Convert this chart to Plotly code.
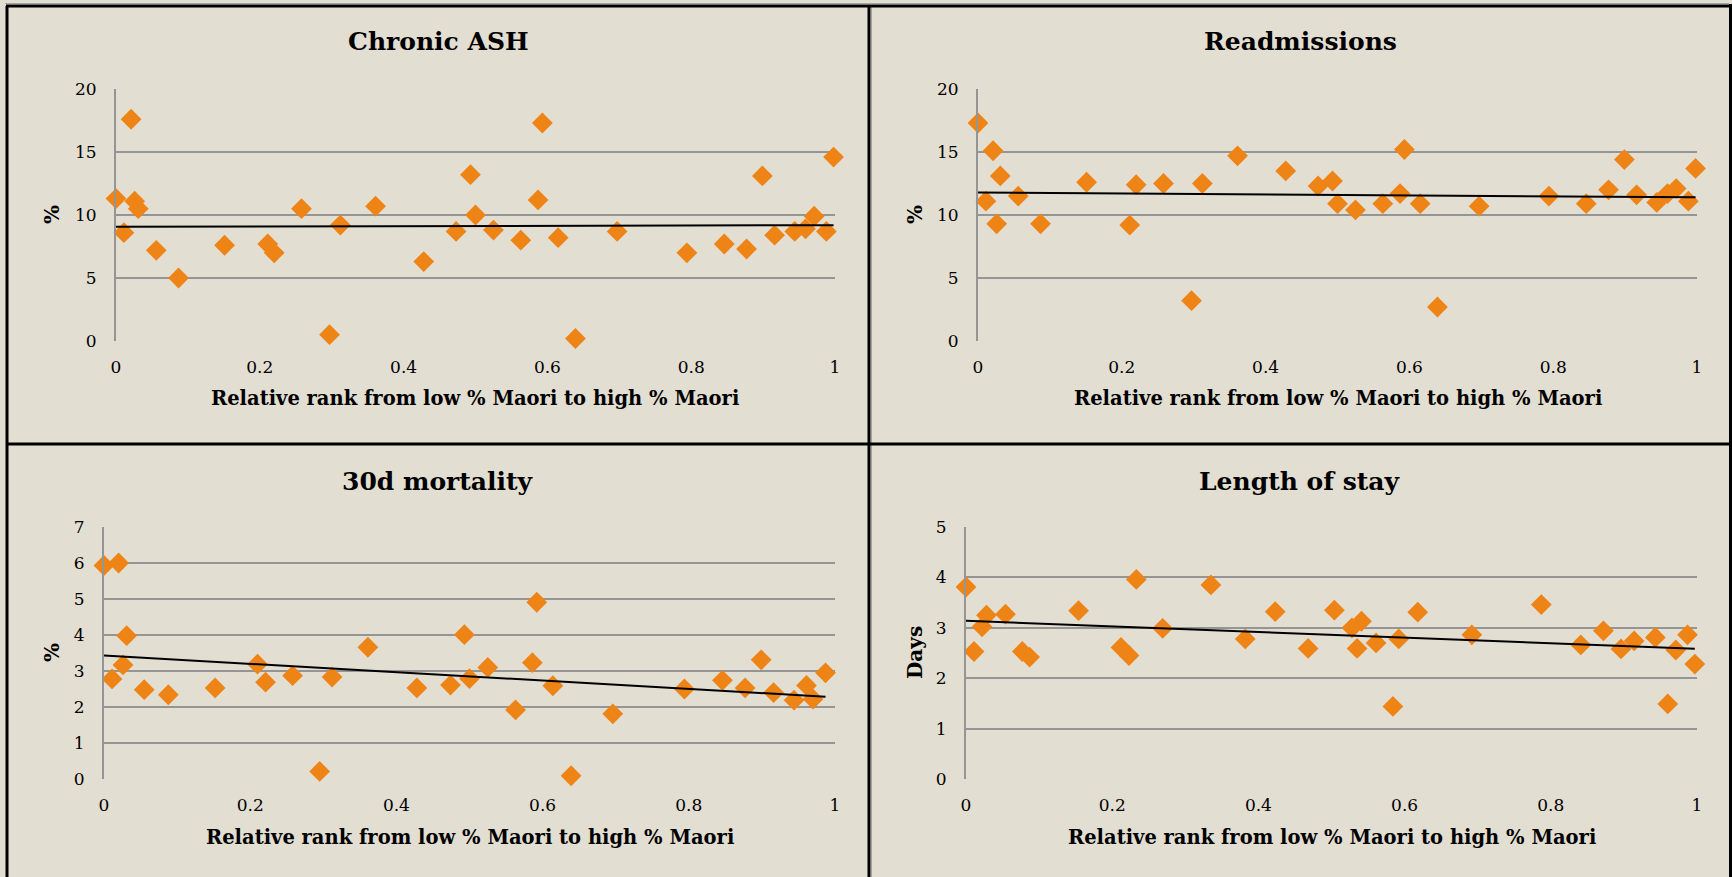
import numpy as np
import plotly.graph_objects as go

W, H = 1732, 877

# ---------------- data ----------------
rank = [0.000, 0.011, 0.021, 0.026, 0.031, 0.056, 0.087, 0.151, 0.211, 0.220,
        0.258, 0.297, 0.312, 0.361, 0.428, 0.473, 0.493, 0.500, 0.525, 0.563,
        0.587, 0.593, 0.615, 0.639, 0.697, 0.794, 0.846, 0.877, 0.899, 0.916,
        0.944, 0.959, 0.971, 0.988, 0.998]

chronic_ash = [11.3, 8.6, 17.6, 11.1, 10.5, 7.2, 5.0, 7.6, 7.7, 7.0,
               10.5, 0.5, 9.2, 10.7, 6.3, 8.7, 13.2, 10.0, 8.8, 8.0,
               11.2, 17.3, 8.2, 0.2, 8.7, 7.0, 7.7, 7.3, 13.1, 8.4,
               8.7, 8.9, 9.9, 8.7, 14.6]

readmissions = [17.3, 11.1, 15.1, 9.3, 13.1, 11.5, 9.3, 12.6, 9.2, 12.4,
                12.5, 3.2, 12.5, 14.7, 13.5, 12.3, 12.7, 10.9, 10.4, 10.9,
                11.7, 15.2, 10.9, 2.7, 10.7, 11.5, 10.9, 12.0, 14.4, 11.6,
                11.0, 11.7, 12.1, 11.1, 13.7]

rank_mortality = [0.000, 0.011, 0.020, 0.026, 0.031, 0.055, 0.088, 0.152, 0.210, 0.221,
                  0.258, 0.295, 0.312, 0.361, 0.428, 0.474, 0.493, 0.500, 0.525, 0.563,
                  0.586, 0.592, 0.614, 0.639, 0.696, 0.794, 0.846, 0.877, 0.899, 0.916,
                  0.944, 0.961, 0.970, 0.987]

mortality_30d = [5.93, 2.78, 6.0, 3.17, 3.98, 2.48, 2.34, 2.53, 3.19, 2.69,
                 2.87, 0.21, 2.83, 3.66, 2.53, 2.61, 4.01, 2.79, 3.10, 1.92,
                 3.23, 4.91, 2.59, 0.09, 1.81, 2.50, 2.74, 2.53, 3.31, 2.40,
                 2.19, 2.60, 2.22, 2.95]

rank_los = [0.000, 0.011, 0.022, 0.028, 0.054, 0.077, 0.087, 0.154, 0.212, 0.223,
            0.233, 0.269, 0.335, 0.382, 0.423, 0.468, 0.504, 0.528, 0.535, 0.541,
            0.561, 0.584, 0.592, 0.618, 0.692, 0.787, 0.841, 0.872, 0.896, 0.914,
            0.943, 0.960, 0.971, 0.987, 0.997]

length_of_stay = [3.81, 2.53, 3.02, 3.25, 3.27, 2.53, 2.42, 3.34, 2.61, 2.45,
                  3.96, 2.99, 3.85, 2.78, 3.32, 2.59, 3.35, 3.00, 2.59, 3.13,
                  2.70, 1.44, 2.78, 3.31, 2.86, 3.46, 2.66, 2.94, 2.58, 2.74,
                  2.81, 1.49, 2.56, 2.86, 2.28]

panel_titles = ["Chronic ASH", "Readmissions", "30d mortality", "Length of stay"]
y_titles = ["%", "%", "%", "Days"]
x_title = "Relative rank from low % Maori to high % Maori"
x_ticks = [0, 0.2, 0.4, 0.6, 0.8, 1]
x_ticklabels = ["0", "0.2", "0.4", "0.6", "0.8", "1"]
y_ranges = [[0, 20], [0, 20], [0, 7], [0, 5]]
y_dticks = [5, 5, 1, 1]

series = [(rank, chronic_ash), (rank, readmissions),
          (rank_mortality, mortality_30d), (rank_los, length_of_stay)]

# ---------------- styling / layout ----------------
BG = "#E3DED2"
ORANGE = "#EF8416"
GRID = "#959595"
FONT = "DejaVu Serif"

# plot areas in pixels: (left, right, top, bottom)
areas = [(116, 835, 89, 341), (978, 1697, 89, 341),
         (104, 835, 527, 779), (966, 1697, 527, 779)]
# panel boxes (left, right, top, bottom)
boxes = [(7, 869, 6, 444), (869, 1731, 6, 444),
         (7, 869, 444, 877), (869, 1731, 444, 877)]
title_y = [41, 41, 481, 481]
xtitle_y = [398, 398, 837, 837]
ytitle_x = [52, 915, 52, 915]

def px(x):
    return x / W

def py(y):
    return 1 - y / H

fig = go.Figure()
layout = {}
annotations = []
for i in range(4):
    xs, ys = series[i]
    n = "" if i == 0 else str(i + 1)
    xa, ya = "x" + n, "y" + n
    fig.add_trace(go.Scatter(
        x=xs, y=ys, mode="markers", xaxis=xa, yaxis=ya,
        marker=dict(symbol="diamond", size=16, color=ORANGE, line=dict(width=0)),
        showlegend=False, hoverinfo="x+y", cliponaxis=False))
    # linear trend line fitted to the data
    k, b = np.polyfit(np.array(xs), np.array(ys), 1)
    lx = np.array([min(xs), max(xs)])
    fig.add_trace(go.Scatter(
        x=lx, y=k * lx + b, mode="lines", xaxis=xa, yaxis=ya,
        line=dict(color="black", width=2), showlegend=False, hoverinfo="skip"))

    l, r, t, btm = areas[i]
    layout["xaxis" + n] = dict(
        domain=[px(l), px(r)], range=[0, 1], anchor=ya, automargin=False,
        tickvals=x_ticks, ticktext=x_ticklabels, showgrid=False, zeroline=False,
        showline=False, ticks="outside", ticklen=11, tickcolor="rgba(0,0,0,0)",
        tickfont=dict(family=FONT, size=17, color="black"))
    layout["yaxis" + n] = dict(
        domain=[py(btm), py(t)], range=y_ranges[i], anchor=xa, automargin=False,
        dtick=y_dticks[i], tick0=0, showgrid=True, gridcolor=GRID, gridwidth=2,
        zeroline=False, showline=True, linecolor=GRID, linewidth=2,
        ticks="outside", ticklen=14, tickcolor="rgba(0,0,0,0)",
        tickfont=dict(family=FONT, size=17, color="black"))

    bl, br, bt, bb = boxes[i]
    annotations.append(dict(
        text="<b>%s</b>" % panel_titles[i], x=px((bl + br) / 2), y=py(title_y[i]),
        xref="paper", yref="paper", showarrow=False, xanchor="center", yanchor="middle",
        font=dict(family=FONT, size=25, color="black")))
    annotations.append(dict(
        text="<b>%s</b>" % x_title, x=px((l + r) / 2), y=py(xtitle_y[i]),
        xref="paper", yref="paper", showarrow=False, xanchor="center", yanchor="middle",
        font=dict(family=FONT, size=19.5, color="black")))
    annotations.append(dict(
        text="<b>%s</b>" % y_titles[i], x=px(ytitle_x[i]), y=py((t + btm) / 2),
        xref="paper", yref="paper", showarrow=False, xanchor="center", yanchor="middle",
        textangle=-90, font=dict(family=FONT, size=20, color="black")))

shapes = []
def hline(y, x0, x1, color="black", w=3):
    shapes.append(dict(type="line", xref="paper", yref="paper",
                       x0=px(x0), x1=px(x1), y0=py(y), y1=py(y),
                       line=dict(color=color, width=w)))

def vline(x, y0, y1, color="black", w=3):
    shapes.append(dict(type="line", xref="paper", yref="paper",
                       x0=px(x), x1=px(x), y0=py(y0), y1=py(y1),
                       line=dict(color=color, width=w)))

hline(3.5, 5, 1729, color="#A8A49C", w=1)
vline(871.5, 6, 877, color="#A8A49C", w=1)
hline(6, 6, 1731)
hline(444, 6, 1731)
vline(7, 6, 877)
vline(869, 6, 877)
vline(1730.5, 4, 877)

fig.update_layout(
    width=W, height=H, margin=dict(l=0, r=0, t=0, b=0, pad=0),
    paper_bgcolor=BG, plot_bgcolor=BG, showlegend=False,
    annotations=annotations, shapes=shapes, **layout)

fig.write_html("out.html")
